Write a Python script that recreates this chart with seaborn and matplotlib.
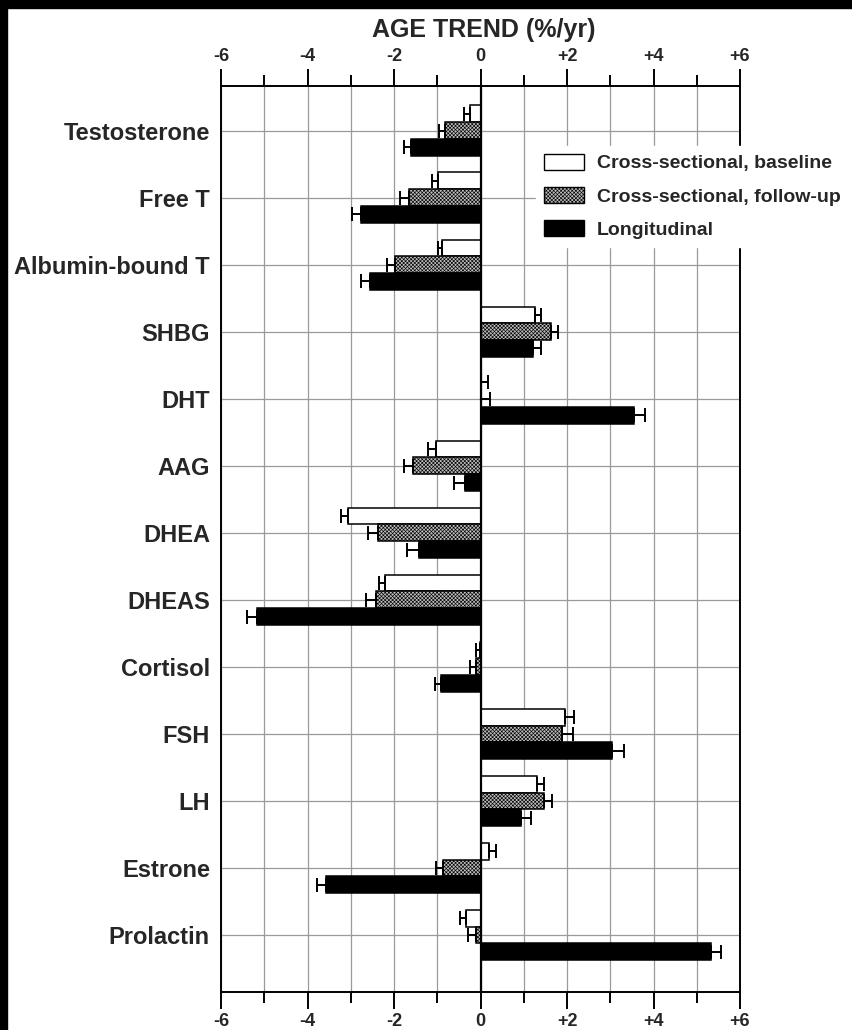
import matplotlib
matplotlib.use("Agg")
import matplotlib.pyplot as plt
from matplotlib.patches import Patch, Rectangle
from matplotlib.ticker import MultipleLocator, FixedLocator
import seaborn as sns
import pandas as pd

# Hormones and age trends (%/yr) with one-sided standard errors
hormones = ["Testosterone", "Free T", "Albumin-bound T", "SHBG", "DHT", "AAG",
            "DHEA", "DHEAS", "Cortisol", "FSH", "LH", "Estrone", "Prolactin"]
series_names = ["Cross-sectional, baseline", "Cross-sectional, follow-up", "Longitudinal"]

baseline = [-0.25, -0.98, -0.88, 1.25, 0.01, -1.04, -3.06, -2.20, -0.02, 1.95, 1.31, 0.19, -0.34]
baseline_err = [0.14, 0.13, 0.11, 0.14, 0.17, 0.18, 0.17, 0.15, 0.08, 0.21, 0.16, 0.16, 0.13]
followup = [-0.81, -1.65, -1.98, 1.62, 0.01, -1.57, -2.38, -2.42, -0.11, 1.89, 1.46, -0.86, -0.11]
followup_err = [0.15, 0.20, 0.19, 0.17, 0.22, 0.20, 0.23, 0.22, 0.14, 0.24, 0.20, 0.18, 0.18]
longitudinal = [-1.61, -2.77, -2.55, 1.21, 3.54, -0.36, -1.42, -5.16, -0.92, 3.04, 0.94, -3.57, 5.33]
longitudinal_err = [0.16, 0.21, 0.21, 0.19, 0.27, 0.25, 0.29, 0.23, 0.13, 0.28, 0.23, 0.21, 0.22]

tick_values = [-6, -4, -2, 0, 2, 4, 6]
tick_labels = ["-6", "-4", "-2", "0", "+2", "+4", "+6"]

values = [baseline, followup, longitudinal]
errors = [baseline_err, followup_err, longitudinal_err]

df = pd.DataFrame({
    "hormone": hormones * 3,
    "trend": baseline + followup + longitudinal,
    "series": sum([[s] * len(hormones) for s in series_names], []),
})

sns.set_theme(style="white")
plt.rcParams["font.family"] = ["Liberation Sans", "DejaVu Sans"]
plt.rcParams["hatch.color"] = "#8a8a8a"
plt.rcParams["hatch.linewidth"] = 0.45

fig = plt.figure(figsize=(8.52, 10.30), dpi=100)
ax = fig.add_axes([221 / 852, 1 - 992 / 1030, 519 / 852, 906 / 1030])

face = {"Cross-sectional, baseline": "white",
        "Cross-sectional, follow-up": "#bdbdbd",
        "Longitudinal": "black"}
stipple = "xxxxxxxxx"

sns.barplot(data=df, y="hormone", x="trend", hue="series", order=hormones,
            hue_order=series_names, palette=face, orient="h", errorbar=None,
            width=0.75, edgecolor="black", linewidth=1.1, saturation=1,
            legend=False, ax=ax, zorder=3)

# stipple the follow-up bars
for bar in ax.containers[1]:
    bar.set_hatch(stipple)

# one-sided error bars pointing away from zero
for container, vals, errs in zip(ax.containers, values, errors):
    for bar, v, e in zip(container, vals, errs):
        yc = bar.get_y() + bar.get_height() / 2
        xerr = [[0], [e]] if v >= 0 else [[e], [0]]
        ax.errorbar(v, yc, xerr=xerr, fmt="none", ecolor="black",
                    elinewidth=1.4, capsize=5, capthick=1.4, zorder=4)

ax.set_xlim(-6, 6)
ax.set_ylim(12.85, -0.665)
ax.axvline(0, color="black", lw=1.6, zorder=5)

# grid
ax.set_axisbelow(True)
for xv in range(-6, 7):
    ax.axvline(xv, color="#9a9a9a", lw=0.9, zorder=1)
for yv in range(len(hormones)):
    ax.axhline(yv, color="#9a9a9a", lw=0.9, zorder=1)

ax.xaxis.set_major_locator(FixedLocator(tick_values))
ax.xaxis.set_minor_locator(MultipleLocator(1))
ax.set_xticks(tick_values)
ax.set_xticklabels(tick_labels, fontsize=13, fontweight="bold")
ax.tick_params(axis="x", which="both", top=True, bottom=True, labeltop=True,
               labelbottom=True, direction="out", color="black", width=1.4)
ax.tick_params(axis="x", which="major", length=12, pad=3)
ax.tick_params(axis="x", which="minor", length=8)
ax.tick_params(axis="y", length=0, pad=8)
for lab in ax.get_yticklabels():
    lab.set_fontsize(17)
    lab.set_fontweight("bold")
ax.set_xlabel("")
ax.set_ylabel("")
for sp in ax.spines.values():
    sp.set_visible(True)
    sp.set_color("black")
    sp.set_linewidth(1.4)

fig.text(484 / 852, 1 - 30 / 1030, "AGE TREND (%/yr)", ha="center", va="center",
         fontsize=18, fontweight="bold")

handles = [Patch(facecolor=face[s], edgecolor="black", linewidth=1.0,
                 hatch=stipple if i == 1 else None)
           for i, s in enumerate(series_names)]
leg = ax.legend(handles, series_names, loc="upper left",
                bbox_to_anchor=(536 / 852, 1 - 146 / 1030),
                bbox_transform=fig.transFigure, frameon=True, fancybox=False,
                facecolor="white", edgecolor="white", framealpha=1,
                borderaxespad=0, borderpad=0.4, handlelength=2.05,
                handleheight=0.88, handletextpad=0.7, labelspacing=0.75,
                prop={"size": 14, "weight": "bold"})
leg.set_zorder(10)

# scanner border
fig.patches.append(Rectangle((0, 1 - 8 / 1030), 1, 8 / 1030, transform=fig.transFigure,
                             color="black", zorder=20))
fig.patches.append(Rectangle((0, 0), 7 / 852, 1, transform=fig.transFigure,
                             color="black", zorder=20))

fig.savefig("out.png", dpi=100, facecolor="white")
